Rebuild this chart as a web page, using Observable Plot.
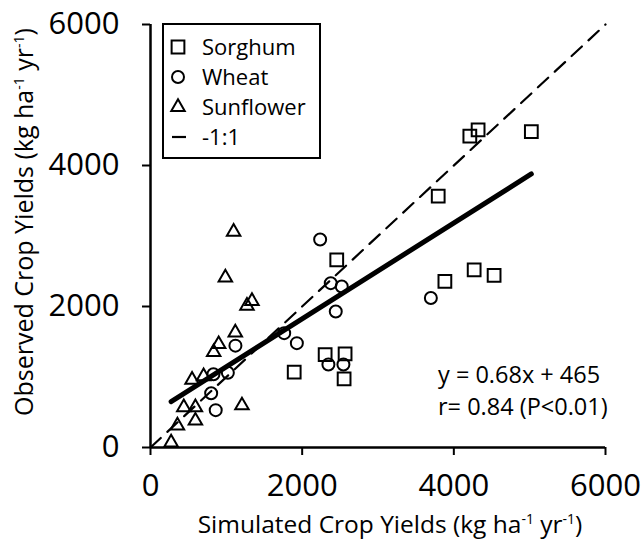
<!DOCTYPE html>
<html>
<head>
<meta charset="utf-8">
<script src="https://cdn.jsdelivr.net/npm/d3@7"></script>
<script src="https://cdn.jsdelivr.net/npm/@observablehq/plot@0.6"></script>
<style>
  body { margin: 0; background: #fff; }
  svg { font-family: "Open Sans", sans-serif; }
</style>
</head>
<body>
<div id="chart"></div>
<script>
// Simulated vs observed crop yields (kg ha-1 yr-1)
const sorghumSim = [2456, 2303, 2566, 1895, 2553, 4211, 4320, 5022, 3794, 3882, 4268, 4531];
const sorghumObs = [2662, 1319, 1329, 1068, 974, 4416, 4506, 4482, 3565, 2355, 2520, 2440];

const wheatSim = [2237, 2377, 2522, 2443, 1763, 1930, 1120, 1020, 830, 800, 860, 2346, 2544, 3697];
const wheatObs = [2950, 2331, 2284, 1929, 1622, 1480, 1445, 1060, 1040, 770, 530, 1177, 1177, 2120];

const sunflowerSim = [1096, 987, 1272, 1338, 1118, 899, 833, 548, 700, 439, 592, 1206, 592, 355, 272];
const sunflowerObs = [3060, 2410, 2010, 2076, 1630, 1465, 1352, 960, 1010, 570, 570, 596, 380, 312, 70];

const seriesNames = ["Sorghum", "Wheat", "Sunflower", "-1:1"];
const xTicks = [0, 2000, 4000, 6000];
const yTicks = [0, 2000, 4000, 6000];
const fitSlope = 0.68;
const fitIntercept = 465;
const fitLabel = "y = 0.68x + 465";
const statLabel = "r= 0.84 (P<0.01)";

const toRows = (xs, ys) => xs.map((x, i) => ({x, y: ys[i]}));
const sorghum = toRows(sorghumSim, sorghumObs);
const wheat = toRows(wheatSim, wheatObs);
const sunflower = toRows(sunflowerSim, sunflowerObs);

// Fitted regression across the simulated range
const allSim = [...sorghumSim, ...wheatSim, ...sunflowerSim];
const fit = d3.extent(allSim).map(x => ({x, y: fitSlope * x + fitIntercept}));
const oneToOne = [xTicks[0], xTicks[xTicks.length - 1]].map(v => ({x: v, y: v}));

const R = {square: 7.2, circle: 6, triangle: 5};
const fmt = d3.format("d");

const chart = Plot.plot({
  width: 643,
  height: 539,
  marginLeft: 150,
  marginRight: 38,
  marginTop: 24,
  marginBottom: 92,
  style: {background: "#fff", color: "#000", fontFamily: "Open Sans, sans-serif"},
  x: {domain: [0, 6000]},
  y: {domain: [0, 6000]},
  marks: [
    Plot.axisX({ticks: xTicks, tickFormat: fmt, tickSize: 8, tickPadding: 18, strokeWidth: 2, fontSize: 31, label: null}),
    Plot.axisY({ticks: yTicks, tickFormat: fmt, tickSize: 8, tickPadding: 23, strokeWidth: 2, fontSize: 31, label: null}),
    Plot.ruleY([0], {stroke: "#000", strokeWidth: 2.5}),
    Plot.ruleX([0], {stroke: "#000", strokeWidth: 2.5}),
    Plot.line(oneToOne, {x: "x", y: "y", stroke: "#000", strokeWidth: 2.2, strokeDasharray: "14,9"}),
    Plot.line(fit, {x: "x", y: "y", stroke: "#000", strokeWidth: 5}),
    Plot.dot(sorghum, {x: "x", y: "y", symbol: "square", r: R.square, stroke: "#000", strokeWidth: 2, fill: "none"}),
    Plot.dot(wheat, {x: "x", y: "y", symbol: "circle", r: R.circle, stroke: "#000", strokeWidth: 2, fill: "none"}),
    Plot.dot(sunflower, {x: "x", y: "y", symbol: "triangle", r: R.triangle, stroke: "#000", strokeWidth: 2, fill: "none"})
  ]
});

document.getElementById("chart").appendChild(chart);

const svg = d3.select(chart);

// Axis titles with superscript units
function unitTitle(sel, lead) {
  sel.append("tspan").text(lead + " (kg ha");
  sel.append("tspan").attr("font-size", "14px").attr("dy", -9).text("-1");
  sel.append("tspan").attr("dy", 9).text(" yr");
  sel.append("tspan").attr("font-size", "14px").attr("dy", -9).text("-1");
  sel.append("tspan").attr("dy", 9).text(")");
}
unitTitle(svg.append("text")
  .attr("x", 390).attr("y", 533)
  .attr("text-anchor", "middle").attr("font-size", 24.5).attr("fill", "#000"),
  "Simulated Crop Yields");
unitTitle(svg.append("text")
  .attr("transform", "translate(33,222) rotate(-90)")
  .attr("text-anchor", "middle").attr("font-size", 25).attr("fill", "#000"),
  "Observed Crop Yields");

// Regression annotation
svg.append("text").attr("x", 438).attr("y", 383).attr("text-anchor", "start")
  .attr("font-size", 23.5).attr("fill", "#000").text(fitLabel);
svg.append("text").attr("x", 438).attr("y", 415).attr("text-anchor", "start")
  .attr("font-size", 23.5).attr("fill", "#000").text(statLabel);

// Legend
const legend = svg.append("g");
legend.append("rect").attr("x", 163).attr("y", 24).attr("width", 157).attr("height", 134)
  .attr("fill", "#fff").attr("stroke", "#000").attr("stroke-width", 2);
const symbols = [d3.symbolSquare, d3.symbolCircle, d3.symbolTriangle];
const radii = [R.square, R.circle, R.triangle];
seriesNames.forEach((name, i) => {
  const cy = 47 + i * 30;
  if (i < 3) {
    legend.append("path")
      .attr("transform", `translate(178,${cy})`)
      .attr("d", d3.symbol(symbols[i], Math.PI * radii[i] * radii[i])())
      .attr("fill", "none").attr("stroke", "#000").attr("stroke-width", 2);
  } else {
    legend.append("line").attr("x1", 172).attr("x2", 186).attr("y1", cy).attr("y2", cy)
      .attr("stroke", "#000").attr("stroke-width", 2.2);
  }
  legend.append("text").attr("x", 202).attr("y", cy).attr("dy", "0.35em")
    .attr("text-anchor", "start").attr("font-size", 22).attr("fill", "#000").text(name);
});
</script>
</body>
</html>
